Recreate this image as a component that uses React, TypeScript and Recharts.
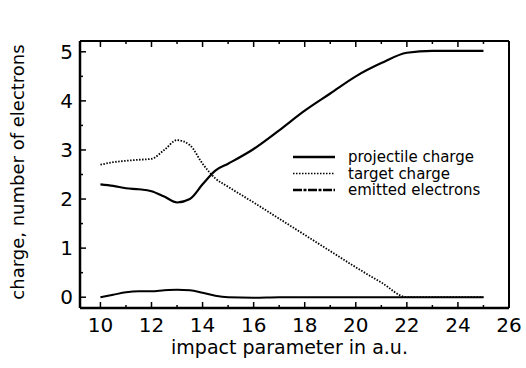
import { LineChart, Line, XAxis, YAxis } from 'recharts';

document.body.style.margin = '0';

// impact parameter (a.u.)
const impact = [10, 10.5, 11, 11.5, 12, 12.5, 13, 13.5, 14, 14.5, 15, 16, 17, 18, 19, 20, 21, 22, 23, 24, 25];
const projectile = [2.3, 2.27, 2.22, 2.2, 2.16, 2.05, 1.93, 2.0, 2.3, 2.58, 2.72, 3.02, 3.4, 3.8, 4.15, 4.5, 4.77, 4.98, 5.02, 5.02, 5.02];
const target = [2.7, 2.75, 2.78, 2.8, 2.82, 3.0, 3.2, 3.1, 2.72, 2.42, 2.25, 1.93, 1.6, 1.27, 0.94, 0.61, 0.3, 0.0, 0.0, 0.0, 0.0];
const emitted = [0.0, 0.05, 0.1, 0.12, 0.12, 0.14, 0.15, 0.14, 0.09, 0.03, 0.0, -0.01, 0.0, 0.0, 0.0, 0.0, 0.0, 0.0, 0.0, 0.0, 0.0];

const xTicks = [10, 11, 12, 13, 14, 15, 16, 17, 18, 19, 20, 21, 22, 23, 24, 25, 26];
const yTicks = [0, 0.5, 1, 1.5, 2, 2.5, 3, 3.5, 4, 4.5, 5];

const seriesNames = ['projectile charge', 'target charge', 'emitted electrons'];

const data = impact.map((x, i) => ({
    x,
    projectile: projectile[i],
    target: target[i],
    emitted: emitted[i],
}));

const FONT = '"DejaVu Sans", sans-serif';

const BottomTick = (props: any) => {
    const { x, y, payload } = props;
    const v = payload.value;
    const major = v % 2 === 0;
    return (
        <g>
            <line x1={x} y1={y} x2={x} y2={y - (major ? 6 : 3)} stroke="#000" strokeWidth={1.5} />
            {major && (
                <text x={x} y={y + 24} textAnchor="middle" fontSize={20} fontFamily={FONT} fill="#000">
                    {v}
                </text>
            )}
        </g>
    );
};

const TopTick = (props: any) => {
    const { x, y, payload } = props;
    const major = payload.value % 2 === 0;
    return <line x1={x} y1={y} x2={x} y2={y + (major ? 6 : 3)} stroke="#000" strokeWidth={1.5} />;
};

const LeftTick = (props: any) => {
    const { x, y, payload } = props;
    const v = payload.value;
    const major = Number.isInteger(v);
    return (
        <g>
            <line x1={x} y1={y} x2={x + (major ? 6 : 3)} y2={y} stroke="#000" strokeWidth={1.5} />
            {major && (
                <text x={x - 7} y={y} textAnchor="end" dominantBaseline="central" fontSize={20} fontFamily={FONT} fill="#000">
                    {v}
                </text>
            )}
        </g>
    );
};

const RightTick = (props: any) => {
    const { x, y, payload } = props;
    const major = Number.isInteger(payload.value);
    return <line x1={x} y1={y} x2={x - (major ? 6 : 3)} y2={y} stroke="#000" strokeWidth={1.5} />;
};

export default function App() {
    return (
        <div style={{ position: 'relative', width: 526, height: 368, background: '#fff' }}>
            <LineChart width={526} height={368} data={data} margin={{ top: 40, right: 16, bottom: 10, left: 20 }}>
                <XAxis
                    dataKey="x"
                    type="number"
                    domain={[9.2, 26]}
                    ticks={xTicks}
                    interval={0}
                    height={50}
                    tickSize={0}
                    tickMargin={0}
                    tickLine={false}
                    tick={<BottomTick />}
                    axisLine={{ stroke: '#000', strokeWidth: 2.5 }}
                    label={(p: any) => {
                        const vb = p.viewBox || { x: 80, width: 429, y: 308 };
                        return (
                            <text x={vb.x + vb.width / 2 - 5} y={354} textAnchor="middle" fontSize={19} fontFamily={FONT} fill="#000">
                                impact parameter in a.u.
                            </text>
                        );
                    }}
                />
                <XAxis
                    xAxisId="top"
                    orientation="top"
                    dataKey="x"
                    type="number"
                    domain={[9.2, 26]}
                    ticks={xTicks}
                    interval={0}
                    height={1}
                    tickSize={0}
                    tickMargin={0}
                    tickLine={false}
                    tick={<TopTick />}
                    axisLine={{ stroke: '#000', strokeWidth: 2 }}
                />
                <YAxis
                    type="number"
                    domain={[-0.22, 5.22]}
                    ticks={yTicks}
                    interval={0}
                    width={60}
                    tickSize={0}
                    tickMargin={0}
                    tickLine={false}
                    tick={<LeftTick />}
                    axisLine={{ stroke: '#000', strokeWidth: 2.5 }}
                    label={() => (
                        <text
                            x={17}
                            y={172}
                            transform="rotate(-90 17 172)"
                            textAnchor="middle"
                            dominantBaseline="central"
                            fontSize={18}
                            fontFamily={FONT}
                            fill="#000"
                        >
                            charge, number of electrons
                        </text>
                    )}
                />
                <YAxis
                    yAxisId="right"
                    orientation="right"
                    type="number"
                    domain={[-0.22, 5.22]}
                    ticks={yTicks}
                    interval={0}
                    width={1}
                    tickSize={0}
                    tickMargin={0}
                    tickLine={false}
                    tick={<RightTick />}
                    axisLine={{ stroke: '#000', strokeWidth: 2 }}
                />
                <Line
                    dataKey="emitted"
                    type="monotone"
                    stroke="#000"
                    strokeWidth={2}
                    dot={false}
                    isAnimationActive={false}
                />
                <Line
                    dataKey="target"
                    type="monotone"
                    stroke="#000"
                    strokeWidth={1.8}
                    strokeDasharray="1.5 1.5"
                    dot={false}
                    isAnimationActive={false}
                />
                <Line
                    dataKey="projectile"
                    type="monotone"
                    stroke="#000"
                    strokeWidth={2.2}
                    dot={false}
                    isAnimationActive={false}
                />
            </LineChart>

            {/* legend */}
            <svg width={220} height={50} style={{ position: 'absolute', left: 290, top: 148 }}>
                {seriesNames.map((name, i) => {
                    const cy = 9 + i * 16.5;
                    const dash = i === 1 ? '1.5 1.5' : i === 2 ? '9 1.5 3 1.5' : undefined;
                    return (
                        <g key={name}>
                            <line x1={3} x2={45} y1={cy} y2={cy} stroke="#000" strokeWidth={i === 1 ? 1.5 : 2.5} strokeDasharray={dash} />
                            <text x={58} y={cy} dominantBaseline="central" fontSize={15} fontFamily={FONT} fill="#000">
                                {name}
                            </text>
                        </g>
                    );
                })}
            </svg>
        </div>
    );
}
